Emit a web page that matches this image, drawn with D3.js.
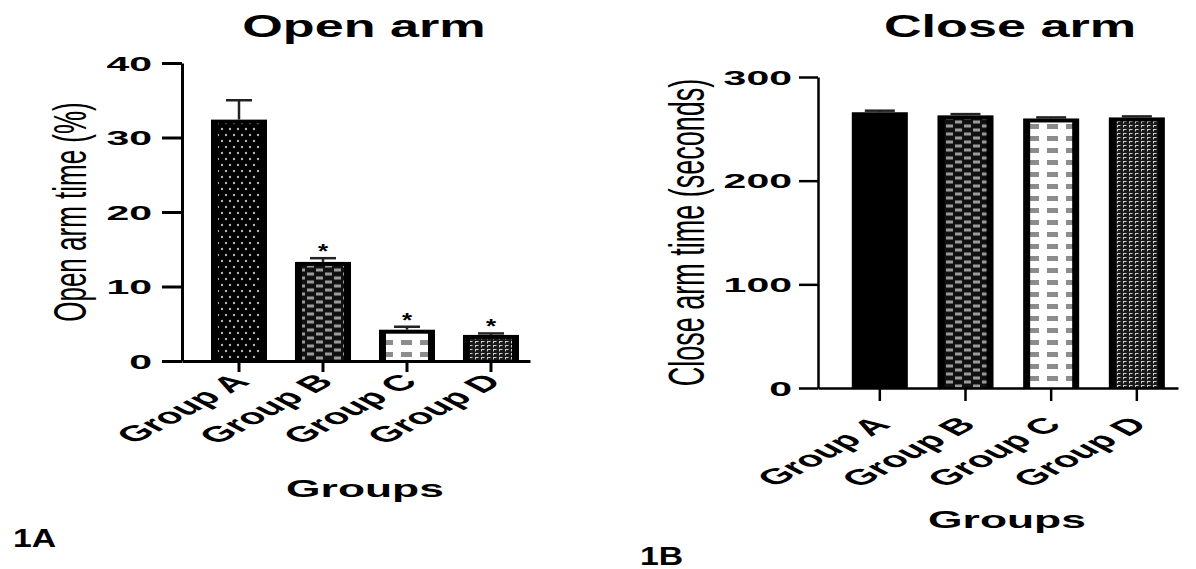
<!DOCTYPE html>
<html>
<head>
<meta charset="utf-8">
<script src="https://cdn.jsdelivr.net/npm/d3@7"></script>
<style>
  body { margin: 0; background: #fff; }
  text { font-family: "Liberation Sans", Arial, sans-serif; fill: #000; }
</style>
</head>
<body>
<div id="root"></div>
<script>
// data
const groups = ["Group A", "Group B", "Group C", "Group D"];
const openMeans = [32.4, 13.3, 4.2, 3.5];
const openErr = [2.6, 0.5, 0.4, 0.2];
const openSig = ["", "*", "*", "*"];
const openTicks = [0, 10, 20, 30, 40];
const closeMeans = [266, 263, 260, 261];
const closeErr = [1.5, 1.2, 1, 1];
const closeSig = ["", "", "", ""];
const closeTicks = [0, 100, 200, 300];

const W = 1196, H = 569;

let svg = d3.select("#root").append("svg")
  .attr("width", W).attr("height", H)
  .style("display", "block");

svg.append("rect").attr("width", W).attr("height", H).attr("fill", "#fff");

// fill patterns used by the bars
let defs = svg.append("defs");

function pattern(id, w, h) {
  let p = defs.append("pattern").attr("id", id)
    .attr("patternUnits", "userSpaceOnUse")
    .attr("width", w).attr("height", h);
  return p;
}

let pDots = pattern("dots", 8, 12);
pDots.append("rect").attr("width", 8).attr("height", 12).attr("fill", "#000");
pDots.append("circle").attr("cx", 2).attr("cy", 3).attr("r", 1.2).attr("fill", "#b5b5b5");
pDots.append("circle").attr("cx", 6).attr("cy", 9).attr("r", 1.2).attr("fill", "#b5b5b5");

let pChk = pattern("checker", 18, 8);
pChk.append("rect").attr("width", 18).attr("height", 8).attr("fill", "#111");
pChk.append("rect").attr("x", 1).attr("y", 0.5).attr("width", 7).attr("height", 3).attr("fill", "#9c9c9c");
pChk.append("rect").attr("x", 10).attr("y", 4.5).attr("width", 7).attr("height", 3).attr("fill", "#9c9c9c");

let pDash = pattern("dashes", 19, 12);
pDash.append("rect").attr("width", 19).attr("height", 12).attr("fill", "#fff");
pDash.append("rect").attr("x", 2).attr("y", 4).attr("width", 11).attr("height", 5).attr("fill", "#8c8c8c");

let pDense = pattern("dense", 6, 4);
pDense.append("rect").attr("width", 6).attr("height", 4).attr("fill", "#1a1a1a");
pDense.append("rect").attr("x", 1).attr("y", 1).attr("width", 3.5).attr("height", 1).attr("fill", "#d0d0d0");
pDense.append("rect").attr("x", 1).attr("y", 1).attr("width", 1).attr("height", 2.4).attr("fill", "#d0d0d0");

// horizontally stretched text helper (the figure is stretched sideways)
function label(x, y, str, size, sx, weight, anchor) {
  return svg.append("text")
    .attr("transform", "translate(" + x + "," + y + ") scale(" + sx + ",1)")
    .attr("text-anchor", anchor || "middle")
    .style("font-size", size + "px")
    .style("font-weight", weight || "bold")
    .text(str);
}

function drawPanel(cfg) {
  let x = d3.scaleBand().domain(groups)
    .range(cfg.xRange)
    .paddingInner(cfg.padIn).paddingOuter(cfg.padOut).align(cfg.align);
  let y = d3.scaleLinear().domain(cfg.yDomain).range(cfg.yRange);
  let bw = x.bandwidth();
  let g = svg.append("g");

  // bars: black outline block with a patterned inside
  groups.forEach((grp, i) => {
    let v = cfg.means[i];
    let x0 = x(grp), y0 = y(v), h = y(0) - y(v);
    g.append("rect").attr("x", x0).attr("y", y0).attr("width", bw).attr("height", h).attr("fill", "#000");
    if (cfg.fills[i] !== "solid") {
      g.append("rect")
        .attr("x", x0 + cfg.border).attr("y", y0 + 4)
        .attr("width", bw - 2 * cfg.border).attr("height", Math.max(0, h - 4))
        .attr("fill", "url(#" + cfg.fills[i] + ")");
    }
    // error bar
    let cx = x0 + bw / 2, yt = y(v + cfg.err[i]);
    g.append("line").attr("x1", cx).attr("x2", cx).attr("y1", y0).attr("y2", yt)
      .attr("stroke", "#222").attr("stroke-width", 2.5);
    g.append("line").attr("x1", cx - cfg.cap / 2).attr("x2", cx + cfg.cap / 2).attr("y1", yt).attr("y2", yt)
      .attr("stroke", "#222").attr("stroke-width", 2.5);
    if (cfg.sig[i]) {
      label(cx, yt, cfg.sig[i], 20, 1.3, "bold");
    }
  });

  // y axis
  let yAxis = svg.append("g")
    .attr("transform", "translate(" + cfg.xRange[0] + ",0)")
    .call(d3.axisLeft(y).tickValues(cfg.ticks).tickSize(cfg.yTick).tickSizeOuter(0));
  yAxis.selectAll("path, line").attr("stroke", "#000").attr("stroke-width", cfg.axisW);
  yAxis.selectAll("text")
    .attr("x", 0).attr("dy", "0.36em")
    .attr("transform", "translate(" + (-cfg.yTick - cfg.yPad) + ",0) scale(2.05,1)")
    .style("font-size", "20px").style("font-weight", "bold")
    .style("font-family", "'Liberation Sans', Arial, sans-serif");

  // x axis
  let xAxis = svg.append("g")
    .attr("transform", "translate(0," + y(0) + ")")
    .call(d3.axisBottom(x).tickSize(cfg.xTick).tickSizeOuter(0));
  xAxis.selectAll("path, line").attr("stroke", "#000").attr("stroke-width", cfg.axisW);
  xAxis.selectAll("text")
    .attr("x", 0).attr("y", 0).attr("dy", 0)
    .attr("text-anchor", "end")
    .attr("transform", "translate(" + cfg.lblDx + "," + cfg.lblDy + ") scale(1.9,1) rotate(-45)")
    .style("font-size", "22px").style("font-weight", "bold")
    .style("font-family", "'Liberation Sans', Arial, sans-serif");

  // titles
  label(cfg.titleX, 37, cfg.title, 32, 1.63, "bold");
  label(cfg.groupsX, cfg.groupsY, "Groups", 24, 1.85, "bold");
  svg.append("text")
    .attr("transform", "translate(" + cfg.yLabX + "," + (cfg.yRange[0] + cfg.yRange[1]) / 2 + ") scale(" + cfg.yLabS + ",1) rotate(-90)")
    .attr("text-anchor", "middle").attr("dy", "0.35em")
    .style("font-size", cfg.yLabSize + "px")
    .text(cfg.yLabel);
  label(cfg.panelX, cfg.panelY, cfg.panel, 26, 1.3, "bold", "start");
}

drawPanel({
  means: openMeans, err: openErr, sig: openSig, ticks: openTicks,
  yDomain: [0, 40], yRange: [361, 63],
  xRange: [182, 530], padIn: 0.333, padOut: 0.238, align: 0.725,
  fills: ["dots", "checker", "dashes", "dense"],
  border: 7, cap: 26, axisW: 3, yTick: 20, yPad: 10, xTick: 11,
  lblDx: 12, lblDy: 22,
  title: "Open arm", titleX: 364,
  groupsX: 365, groupsY: 497,
  yLabel: "Open arm time (%)", yLabX: 70, yLabS: 1.77, yLabSize: 26,
  panel: "1A", panelX: 13, panelY: 547
});

drawPanel({
  means: closeMeans, err: closeErr, sig: closeSig, ticks: closeTicks,
  yDomain: [0, 300], yRange: [388, 77],
  xRange: [818, 1178], padIn: 0.346, padOut: 0.274, align: 0.72,
  fills: ["solid", "checker", "dashes", "dense"],
  border: 7, cap: 30, axisW: 2.5, yTick: 19, yPad: 7, xTick: 13,
  lblDx: 12, lblDy: 38,
  title: "Close arm", titleX: 1010,
  groupsX: 1007, groupsY: 528,
  yLabel: "Close arm time (seconds)", yLabX: 686, yLabS: 1.87, yLabSize: 27,
  panel: "1B", panelX: 640, panelY: 565
});
</script>
</body>
</html>
